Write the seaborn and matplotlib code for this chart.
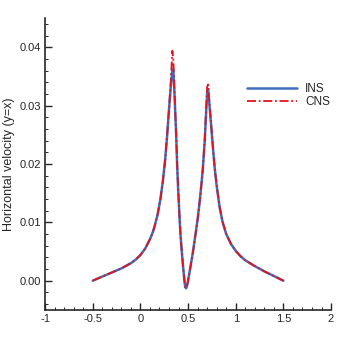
import numpy as np
import pandas as pd
import matplotlib
matplotlib.use('Agg')
import matplotlib.pyplot as plt
import matplotlib.ticker as mtick
import seaborn as sns

# ---- data (x along the line y=x, horizontal velocity) ----
x_pos = [-0.5, -0.4, -0.3, -0.2, -0.1, -0.05, 0.0, 0.05, 0.10, 0.13, 0.15, 0.18,
         0.21, 0.235, 0.26, 0.28, 0.30, 0.32, 0.335, 0.345, 0.355, 0.365, 0.375,
         0.385, 0.395, 0.41, 0.42, 0.435, 0.45, 0.46, 0.47, 0.48, 0.49, 0.50,
         0.52, 0.55, 0.575, 0.60, 0.62, 0.64, 0.655, 0.675, 0.69, 0.70, 0.71,
         0.72, 0.735, 0.75, 0.765, 0.78, 0.80, 0.83, 0.86, 0.90, 0.95, 1.0,
         1.05, 1.1, 1.2, 1.3, 1.4, 1.5]
ins_u = [0.0, 0.0007, 0.0014, 0.0021, 0.0030, 0.0036, 0.0044, 0.0055, 0.0071,
         0.0083, 0.0094, 0.0113, 0.0140, 0.0170, 0.0208, 0.0248, 0.0293, 0.0335,
         0.0362, 0.0362, 0.0330, 0.0290, 0.0250, 0.0200, 0.0160, 0.0110, 0.0080,
         0.0048, 0.0020, 0.0003, -0.0011, -0.0013, -0.0008, 0.0000, 0.0019,
         0.0048, 0.0076, 0.0105, 0.0133, 0.0165, 0.0192, 0.0240, 0.0290, 0.0320,
         0.0328, 0.0310, 0.0280, 0.0250, 0.0220, 0.0192, 0.0163, 0.0127, 0.0102,
         0.0080, 0.0063, 0.0051, 0.0042, 0.0035, 0.0025, 0.0016, 0.0008, 0.0]
cns_u = [0.0, 0.0007, 0.0014, 0.0021, 0.0030, 0.0036, 0.0044, 0.0055, 0.0071,
         0.0083, 0.0094, 0.0113, 0.0140, 0.0170, 0.0208, 0.0249, 0.0296, 0.0345,
         0.0394, 0.0380, 0.0335, 0.0292, 0.0251, 0.0200, 0.0160, 0.0110, 0.0080,
         0.0048, 0.0020, 0.0003, -0.0011, -0.0013, -0.0008, 0.0000, 0.0019,
         0.0048, 0.0076, 0.0105, 0.0133, 0.0165, 0.0193, 0.0243, 0.0296, 0.0332,
         0.0336, 0.0314, 0.0282, 0.0251, 0.0220, 0.0192, 0.0163, 0.0127, 0.0102,
         0.0080, 0.0063, 0.0051, 0.0042, 0.0035, 0.0025, 0.0016, 0.0008, 0.0]

x_ticks = [-1, -0.5, 0, 0.5, 1, 1.5, 2]
y_ticks = [0.00, 0.01, 0.02, 0.03, 0.04]

df = pd.DataFrame({'x': x_pos, 'INS': ins_u, 'CNS': cns_u})

sns.set_style('ticks')
plt.rcParams['font.family'] = ['Liberation Sans', 'DejaVu Sans']
plt.rcParams['axes.unicode_minus'] = False

fig = plt.figure(figsize=(3.47, 3.47), dpi=100)
ax = fig.add_axes([0.130, 0.107, 0.824, 0.841])

sns.lineplot(data=df, x='x', y='INS', ax=ax, color='#3f6fc0', lw=1.8,
             label='INS', sort=False)
sns.lineplot(data=df, x='x', y='CNS', ax=ax, color='#e0141b', lw=1.3,
             linestyle=(0, (5, 1.5, 1, 1.5)), label='CNS', sort=False)

ax.set_xlim(-1, 2)
ax.set_ylim(-0.005, 0.045)
ax.set_xticks(x_ticks)
ax.set_yticks(y_ticks)
ax.xaxis.set_major_formatter(mtick.FuncFormatter(lambda v, _: f'{v:g}'))
ax.yaxis.set_major_formatter(mtick.FormatStrFormatter('%.2f'))
ax.xaxis.set_minor_locator(mtick.MultipleLocator(0.1))
ax.yaxis.set_minor_locator(mtick.MultipleLocator(0.002))

# Tecplot-like axes: left/bottom only, ticks inward
sns.despine(ax=ax)
for s in ['left', 'bottom']:
    ax.spines[s].set_linewidth(1.2)
ax.tick_params(which='major', direction='in', length=5, width=1.0,
               labelsize=8, pad=3)
ax.tick_params(which='minor', direction='in', length=2.5, width=0.7)

ax.set_xlabel('')
ax.set_ylabel('Horizontal velocity (y=x)', fontsize=9, labelpad=3)

ax.legend(loc='upper left', bbox_to_anchor=(0.67, 0.815), frameon=False,
          fontsize=8.5, handlelength=4.2, handletextpad=0.7, labelspacing=0.15)

plt.savefig('out.png', dpi=100)
